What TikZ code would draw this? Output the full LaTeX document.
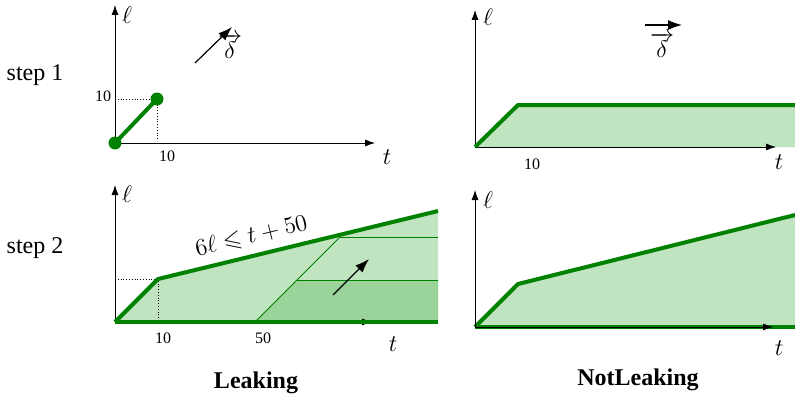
\documentclass[12pt,tikz,border=0pt]{standalone}
\usepackage{amsmath,amssymb}
\usepackage{fontspec}
\setmainfont{Liberation Serif}
\usetikzlibrary{arrows.meta}
\definecolor{zone}{RGB}{0,130,0}
\definecolor{zonefill}{RGB}{192,228,192}
\definecolor{zonedark}{RGB}{155,212,155}
\tikzset{
  axis/.style={
    thin,
    -{Latex[length=5pt,width=3.5pt]}
  },
  border/.style={
    draw = zone,
    line width = 2pt,
    line join = round
  },
  inner/.style={
    draw = zone,
    line width = 0.5pt
  },
  deltaarrow/.style={
    semithick,
    -{Latex[length=7pt,width=5pt]}
  },
  guide/.style={
    densely dotted,
    thin
  },
  dot/.style={
    inner sep = 0pt,
    minimum size = 6.5pt,
    shape = circle,
    fill = zone
  },
  tick/.style={
    font = \scriptsize
  },
  axlabel/.style={
    font = \normalsize
  }
}

\begin{document}
\begin{tikzpicture}[x=0.5pt,y=-0.5pt]
  \useasboundingbox (0,0) rectangle (795,401);
  % row labels
  \node (s1) at (35,75) {step 1};
  \node (s2) at (35,248) {step 2};
  % step 1, leaking
  \coordinate (o1) at (115,143);
  \draw[axis] (o1) -- (115,5);
  \draw[axis] (o1) -- (375,143);
  \draw[guide] (115,99) -- (157,99) -- (157,141);
  \draw[border] (o1) -- (157,99);
  \node[dot] (d0) at (o1) {};
  \node[dot] (d1) at (157,99) {};
  \node[tick] (y10) at (103,96) {10};
  \node[tick] (x10) at (167,156) {10};
  \node[axlabel] (l1) at (127,15) {$\ell$};
  \node[axlabel] (t1) at (387,157) {$t$};
  \draw[deltaarrow] (195,63) -- (232,27);
  \node (dl1) at (230,46) {$\overrightarrow{\delta}$};
  % step 1, not leaking
  \coordinate (o2) at (475,147);
  \fill[zonefill] (o2) -- (518,105) -- (795,105) -- (795,147) -- cycle;
  \draw[axis] (o2) -- (475,10);
  \draw[axis] (o2) -- (776,147);
  \draw[border] (o2) -- (518,105) -- (795,105);
  \node[tick] (x10b) at (532,164) {10};
  \node[axlabel] (l2) at (488,17) {$\ell$};
  \node[axlabel] (t2) at (779,162) {$t$};
  \draw[deltaarrow] (645,25) -- (682,25);
  \node (dl2) at (662,45) {$\overrightarrow{\delta}$};
  % step 2, leaking
  \coordinate (o3) at (115,322);
  \coordinate (k3) at (158,279);
  \coordinate (e3) at (438,211);
  \fill[zonefill] (o3) -- (k3) -- (e3) -- (438,322) -- cycle;
  \fill[zonedark] (255,322) -- (297,280) -- (438,280) -- (438,322) -- cycle;
  \draw[inner] (255,322) -- (340,237);
  \draw[inner] (340,237) -- (438,237);
  \draw[inner] (297,280) -- (438,280);
  \draw[axis] (o3) -- (115,185);
  \draw[axis] (o3) -- (372,322);
  \draw[guide] (115,279) -- (k3) -- (158,320);
  \draw[border] (o3) -- (k3) -- (e3);
  \draw[border] (o3) -- (438,322);
  \path (k3) -- (e3) node[pos=0.35, sloped, above=0.5pt] (bound) {$6\ell \leqslant t + 50$};
  \draw[deltaarrow] (333,295) -- (369,259);
  \node[tick] (x10c) at (163,338) {10};
  \node[tick] (x50) at (263,338) {50};
  \node[axlabel] (l3) at (127,194) {$\ell$};
  \node[axlabel] (t3) at (393,344) {$t$};
  % step 2, not leaking
  \coordinate (o4) at (475,327);
  \coordinate (k4) at (518,284);
  \fill[zonefill] (o4) -- (k4) -- (795,215) -- (795,327) -- cycle;
  \draw[border] (o4) -- (k4) -- (795,215);
  \draw[border] (o4) -- (795,327);
  \draw[axis] (o4) -- (475,190);
  \draw[axis] (o4) -- (773,327);
  \node[axlabel] (l4) at (488,200) {$\ell$};
  \node[axlabel] (t4) at (779,348) {$t$};
  % captions
  \node[font=\bfseries] (cap1) at (256,383) {Leaking};
  \node[font=\bfseries] (cap2) at (638,380) {NotLeaking};
\end{tikzpicture}
\end{document}
